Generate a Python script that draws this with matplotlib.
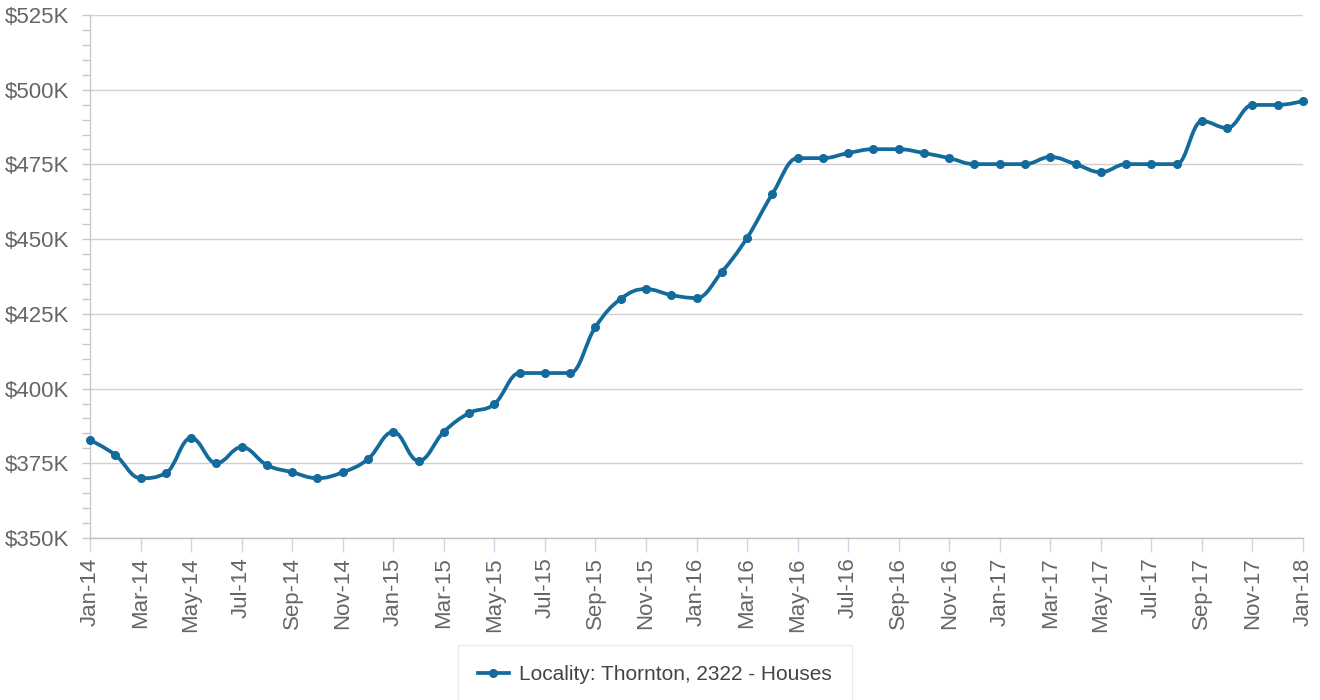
import matplotlib
matplotlib.use("Agg")
import matplotlib.pyplot as plt
from matplotlib.path import Path
from matplotlib.patches import PathPatch
from matplotlib.lines import Line2D
from matplotlib.ticker import MultipleLocator, FuncFormatter

plt.rcParams['font.family'] = ['Liberation Sans', 'DejaVu Sans']

# monthly median price, Jan-14 .. Jan-18 (in $K)
months = ['Jan', 'Feb', 'Mar', 'Apr', 'May', 'Jun', 'Jul', 'Aug', 'Sep', 'Oct', 'Nov', 'Dec']
years = ['14', '15', '16', '17', '18']
dates = [m + '-' + y for y in years for m in months][:49]
prices = [382.8, 377.8, 370.0, 371.7, 383.5, 375.0, 380.4, 374.4, 372.0, 370.0, 372.0, 376.4,
          385.5, 375.8, 385.5, 391.8, 394.8, 405.2, 405.2, 405.2, 420.6, 430.0, 433.3, 431.3,
          430.3, 439.0, 450.4, 465.1, 477.1, 477.1, 478.8, 480.1, 480.1, 478.8, 477.1, 475.1,
          475.1, 475.1, 477.5, 475.1, 472.4, 475.1, 475.1, 475.1, 489.5, 487.2, 494.9, 494.9,
          496.2]
series_name = "Locality: Thornton, 2322 - Houses"

line_color = '#126b9b'
grid_color = '#d0d0d0'
text_color = '#666666'


def spline_path(xs, ys, smoothing=1.5):
    """Highcharts style spline: cubic bezier with clamped control points."""
    denom = smoothing + 1
    n = len(xs)
    verts = [(xs[0], ys[0])]
    codes = [Path.MOVETO]
    left = [None] * n
    rights = [None] * n
    for i in range(n):
        px, py = xs[i], ys[i]
        if 0 < i < n - 1:
            lx, ly = xs[i - 1], ys[i - 1]
            nx, ny = xs[i + 1], ys[i + 1]
            lcx = (smoothing * px + lx) / denom
            lcy = (smoothing * py + ly) / denom
            rcx = (smoothing * px + nx) / denom
            rcy = (smoothing * py + ny) / denom
            corr = 0
            if rcx != lcx:
                corr = (rcy - lcy) * (rcx - px) / (rcx - lcx) + py - rcy
            lcy += corr
            rcy += corr
            if lcy > ly and lcy > py:
                lcy = max(ly, py)
                rcy = 2 * py - lcy
            elif lcy < ly and lcy < py:
                lcy = min(ly, py)
                rcy = 2 * py - lcy
            if rcy > ny and rcy > py:
                rcy = max(ny, py)
                lcy = 2 * py - rcy
            elif rcy < ny and rcy < py:
                rcy = min(ny, py)
                lcy = 2 * py - rcy
            left[i] = (lcx, lcy)
            rights[i] = (rcx, rcy)
        else:
            left[i] = (px, py)
            rights[i] = (px, py)
    for i in range(1, n):
        verts += [rights[i - 1], left[i], (xs[i], ys[i])]
        codes += [Path.CURVE4] * 3
    return Path(verts, codes)


fig = plt.figure(figsize=(13.2, 7), dpi=100)
ax = fig.add_axes([90 / 1320, 1 - 538 / 700, (1303 - 90) / 1320, (538 - 15) / 700])

x = list(range(len(prices)))
ax.add_patch(PathPatch(spline_path(x, prices), facecolor='none', edgecolor=line_color,
                       lw=2.7, capstyle='round', joinstyle='round', zorder=3))
ax.plot(x, prices, linestyle='none', marker='o', markersize=5.5, color=line_color,
        zorder=4, clip_on=False)

ax.set_xlim(0, len(prices) - 1)
ax.set_ylim(350, 525)

ax.yaxis.set_major_locator(MultipleLocator(25))
ax.yaxis.set_minor_locator(MultipleLocator(5))
ax.yaxis.set_major_formatter(FuncFormatter(lambda v, p: f"${v:.0f}K"))
ax.grid(axis='y', which='major', color=grid_color, lw=1)
ax.set_axisbelow(True)

ax.set_xticks(x[::2])
ax.set_xticklabels(dates[::2], rotation=90)

for s in ['top', 'right']:
    ax.spines[s].set_visible(False)
ax.spines['left'].set_color('#c8c8c8')
ax.spines['bottom'].set_color('#c0c0c0')
ax.spines['left'].set_linewidth(1)
ax.spines['bottom'].set_linewidth(1)

ax.tick_params(axis='y', which='both', length=6, width=1, color='#c8c8c8',
               labelsize=16, labelcolor=text_color, pad=9)
ax.tick_params(axis='x', length=10, width=1, color='#ccd6eb',
               labelsize=16, labelcolor=text_color, pad=4)

handle = Line2D([], [], color=line_color, lw=2.7, marker='o', markersize=5.5)
fig.legend([handle], [series_name], loc='upper center',
           bbox_to_anchor=(655 / 1320, 1 - 645 / 700), fontsize=15,
           frameon=True, fancybox=False, edgecolor='#e6e6e6', borderpad=0.95,
           handlelength=1.5, handletextpad=0.5, borderaxespad=0,
           labelcolor='#444444')

fig.savefig('out.png', dpi=100)
